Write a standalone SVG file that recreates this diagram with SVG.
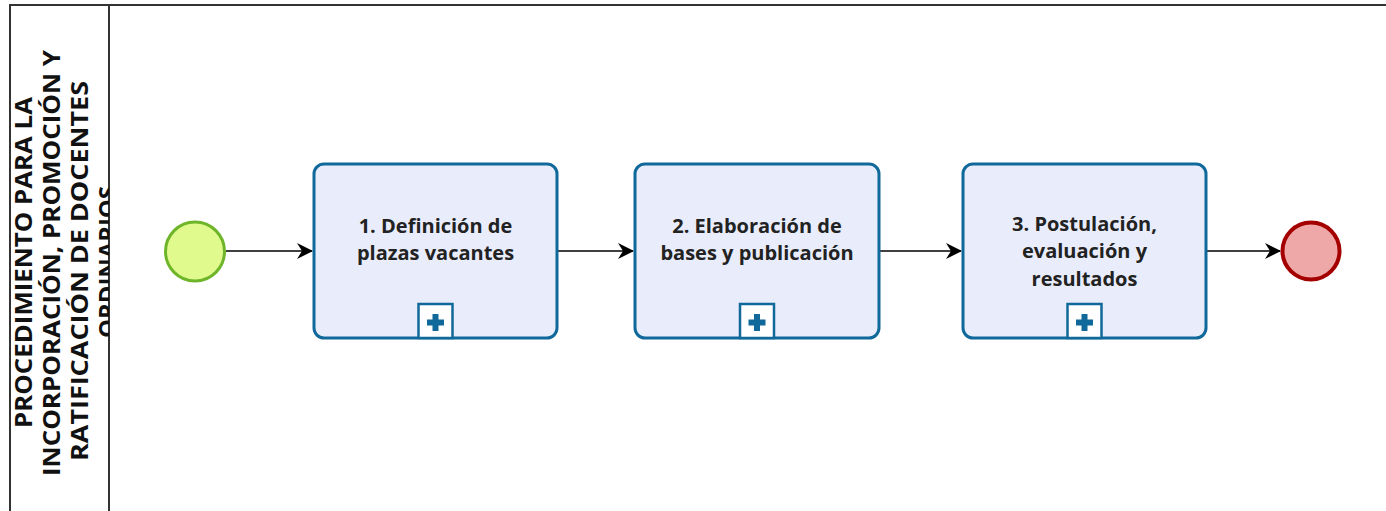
<svg xmlns="http://www.w3.org/2000/svg" width="1386" height="511" viewBox="0 0 1386 511">
<defs>
<style>
.pool{fill:none;stroke:#333;stroke-width:2}
.title{font-family:"Open Sans","Liberation Sans",sans-serif;font-weight:700;font-size:23px;fill:#111}
.task rect.b{fill:#e9edfb;stroke:#10699a;stroke-width:3}
.task text{font-family:"Open Sans","Liberation Sans",sans-serif;font-weight:700;font-size:20px;fill:#222;text-anchor:middle}
.mk{fill:#fff;stroke:#10699a;stroke-width:2.5}
.plus{fill:#10699a}
.flow{stroke:#000;stroke-width:1.5;fill:none;marker-end:url(#ah)}
</style>
<marker id="ah" viewBox="0 0 16 16" refX="15" refY="8" markerWidth="16" markerHeight="16" markerUnits="userSpaceOnUse" orient="auto">
<path d="M0,0 L16,8 L0,16 L5,8 Z" fill="#000"/>
</marker>
<clipPath id="lanec"><rect x="10" y="5" width="99" height="506"/></clipPath>
</defs>
<g id="pool">
<path class="pool" d="M10,511 L10,5 L1386,5 M109,5 L109,511"/>
<g clip-path="url(#lanec)">
<text class="title" transform="translate(32,428) rotate(-90)" textLength="331" lengthAdjust="spacingAndGlyphs">PROCEDIMIENTO PARA LA</text>
<text class="title" transform="translate(60,476) rotate(-90)" textLength="426" lengthAdjust="spacingAndGlyphs">INCORPORACIÓN, PROMOCIÓN Y</text>
<text class="title" transform="translate(88,461) rotate(-90)" textLength="380" lengthAdjust="spacingAndGlyphs">RATIFICACIÓN DE DOCENTES</text>
<text class="title" transform="translate(116,338) rotate(-90)" textLength="152" lengthAdjust="spacingAndGlyphs">ORDINARIOS</text>
</g>
</g>
<g id="connectors">
<path class="flow" d="M226,251 L312,251"/>
<path class="flow" d="M557,251 L633,251"/>
<path class="flow" d="M880,251 L961,251"/>
<path class="flow" d="M1207,251 L1280,251"/>
</g>
<g id="start">
<circle cx="195" cy="251.5" r="29.5" fill="#e1fa8e" stroke="#6eb52a" stroke-width="3"/>
</g>
<g id="task1" class="task">
<rect class="b" x="314" y="164" width="243" height="174" rx="10"/>
<text x="435.5" y="233">1. Definición de</text>
<text x="435.5" y="260">plazas vacantes</text>
<rect class="mk" x="418.5" y="304" width="34" height="34"/>
<path class="plus" d="M432.5,314 h6 v5.5 h5.5 v6 h-5.5 v5.5 h-6 v-5.5 h-5.5 v-6 h5.5 z"/>
</g>
<g id="task2" class="task">
<rect class="b" x="635" y="164" width="244" height="174" rx="10"/>
<text x="757" y="233">2. Elaboración de</text>
<text x="757" y="260">bases y publicación</text>
<rect class="mk" x="740" y="304" width="34" height="34"/>
<path class="plus" d="M754,314 h6 v5.5 h5.5 v6 h-5.5 v5.5 h-6 v-5.5 h-5.5 v-6 h5.5 z"/>
</g>
<g id="task3" class="task">
<rect class="b" x="963" y="164" width="243" height="174" rx="10"/>
<text x="1084.5" y="231">3. Postulación,</text>
<text x="1084.5" y="258">evaluación y</text>
<text x="1084.5" y="286">resultados</text>
<rect class="mk" x="1067.5" y="304" width="34" height="34"/>
<path class="plus" d="M1081.5,314 h6 v5.5 h5.5 v6 h-5.5 v5.5 h-6 v-5.5 h-5.5 v-6 h5.5 z"/>
</g>
<g id="end">
<circle cx="1311" cy="251" r="28.5" fill="#eea8a8" stroke="#a40000" stroke-width="4"/>
</g>
</svg>
